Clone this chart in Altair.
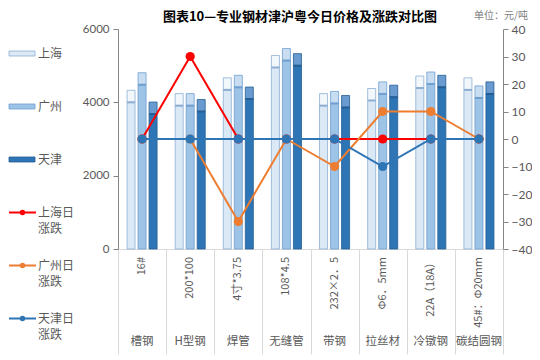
import altair as alt
import pandas as pd

categories = ["槽钢", "H型钢", "焊管", "无缝管", "带钢", "拉丝材", "冷镦钢", "碳结圆钢"]
specs = ["16#", "200*100", "4寸*3.75", "108*4.5", "232×2．5", "Φ6．5mm", "22A（18A）", "45#：Φ20mm"]
cities = ["上海", "广州", "天津"]
price_sh = [4000, 3910, 4340, 4950, 3910, 4050, 4390, 4340]
price_gz = [4480, 3910, 4410, 5140, 3970, 4230, 4500, 4120]
price_tj = [3680, 3750, 4090, 5000, 3860, 4140, 4410, 4230]
chg_names = ["上海日涨跌", "广州日涨跌", "天津日涨跌"]
chg_sh = [0, 30, 0, 0, 0, 0, 0, 0]
chg_gz = [0, 0, -30, 0, -10, 10, 10, 0]
chg_tj = [0, 0, 0, 0, 0, -10, 0, 0]
title_text = "图表10—专业钢材津沪粤今日价格及涨跌对比图"
unit_text = "单位：元/吨"

bar_fill = ["#dbe8f5", "#9dc3e6", "#2e75b6"]
bar_stroke = ["#8eaed3", "#6f9fcf", "#245e94"]
cap_fill = ["#f2f7fc", "#c9ddf2", "#6a9bd0"]
line_colors = ["#ff0000", "#ed7d31", "#2e75b6"]
CJK = "Noto Sans CJK SC"

rows = []
for city, vals in zip(cities, [price_sh, price_gz, price_tj]):
    for c, v in zip(categories, vals):
        rows.append({"cat": c, "city": city, "price": v})
bars_df = pd.DataFrame(rows)

lrows = []
for name, vals in zip(chg_names, [chg_sh, chg_gz, chg_tj]):
    for c, v in zip(categories, vals):
        lrows.append({"cat": c, "series": name, "chg": v})
lines_df = pd.DataFrame(lrows)

spec_df = pd.DataFrame({"cat": categories, "spec": specs})

xenc = alt.X("cat:N", sort=categories,
             scale=alt.Scale(paddingInner=0, paddingOuter=0),
             axis=alt.Axis(labels=False, title=None, tickBand="extent", tickSize=105,
                           tickColor="#d9d9d9", domainColor="#d9d9d9", grid=False))
xoff = alt.XOffset("city:N", sort=cities,
                   scale=alt.Scale(domain=cities, paddingInner=0.27, paddingOuter=0.82))
yleft = alt.Y("price:Q", scale=alt.Scale(domain=[0, 6000]),
              axis=alt.Axis(orient="left", values=list(range(0, 6001, 1000)), title=None,
                            format="d", grid=False, domainColor="#868686", tickColor="#868686",
                            labelColor="#595959", labelFont="Lato", labelFontSize=11.5,
                            tickSize=5, labelPadding=4))

bar_layers = []
for i, city in enumerate(cities):
    base = alt.Chart(bars_df).transform_filter(alt.datum.city == city)
    bar_layers.append(base.mark_bar(fill=bar_fill[i], stroke=bar_stroke[i], strokeWidth=0.8).encode(
        x=xenc if i == 0 else alt.X("cat:N", sort=categories), xOffset=xoff, y=yleft))
    bar_layers.append(base.mark_tick(thickness=12, size=8, yOffset=-6, opacity=1, fill=cap_fill[i],
                                     stroke=bar_stroke[i], strokeWidth=0.8).encode(
        x=alt.X("cat:N", sort=categories), xOffset=xoff, y="price:Q"))
    bar_layers.append(base.mark_tick(thickness=2, size=8, opacity=1, color=bar_stroke[i]).encode(
        x=alt.X("cat:N", sort=categories), xOffset=xoff, y="price:Q"))

spec_text = alt.Chart(spec_df).mark_text(angle=270, align="right", baseline="middle",
                                         fontSize=11, color="#595959", font=CJK).encode(
    x=alt.X("cat:N", sort=categories), y=alt.value(228), text="spec")
name_text = alt.Chart(spec_df).mark_text(baseline="middle", fontSize=11.5, color="#595959",
                                         font=CJK).encode(
    x=alt.X("cat:N", sort=categories), y=alt.value(313), text="cat")
title = alt.Chart(pd.DataFrame({"t": [title_text]})).mark_text(
    fontSize=13, fontWeight="bold", font=CJK, color="#000000", baseline="middle").encode(
    x=alt.value(182), y=alt.value(-12), text="t")
unit = alt.Chart(pd.DataFrame({"t": [unit_text]})).mark_text(
    fontSize=10, font=CJK, color="#7f7f7f", align="left", baseline="middle").encode(
    x=alt.value(356), y=alt.value(-13), text="t")

left_group = alt.layer(*bar_layers, spec_text, name_text, title, unit)

yright = alt.Y("chg:Q", scale=alt.Scale(domain=[-40, 40]),
               axis=alt.Axis(orient="right", values=list(range(-40, 41, 10)), title=None,
                             grid=False, domainColor="#868686", tickColor="#868686",
                             labelColor="#595959", labelFont="Lato", labelFontSize=12,
                             tickSize=5, labelPadding=3))
line_layers = []
for name, col in zip(chg_names, line_colors):
    line_layers.append(
        alt.Chart(lines_df).transform_filter(alt.datum.series == name)
        .mark_line(color=col, strokeWidth=2,
                   point=alt.OverlayMarkDef(color=col, size=85, filled=True, opacity=1))
        .encode(x=alt.X("cat:N", sort=categories), y=yright)
    )
right_group = alt.layer(*line_layers)

main = alt.layer(left_group, right_group).resolve_scale(y="independent").properties(
    width=385, height=220)

legend_names = ["上海", "广州", "天津", "上海日", "广州日", "天津日"]
legend_line2 = ["", "", "", "涨跌", "涨跌", "涨跌"]
legend_colors = ["#dbe8f5", "#9dc3e6", "#2e75b6", "#ff0000", "#ed7d31", "#2e75b6"]
legend_edge = ["#8eaed3", "#6f9fcf", "#245e94", "#ff0000", "#ed7d31", "#2e75b6"]
legend_kind = ["bar", "bar", "bar", "line", "line", "line"]
leg_df = pd.DataFrame({"name": legend_names, "l2": legend_line2, "kind": legend_kind})
ly = alt.Y("name:N", sort=legend_names, axis=None,
           scale=alt.Scale(domain=legend_names, paddingInner=0, paddingOuter=0))
lcol = alt.Color("name:N", scale=alt.Scale(domain=legend_names, range=legend_colors), legend=None)
ledge = alt.Stroke("name:N", scale=alt.Scale(domain=legend_names, range=legend_edge), legend=None)
YO = -2

leg_bar = alt.Chart(leg_df).transform_filter(alt.datum.kind == "bar").mark_bar(
    height=5, strokeWidth=0.8, yOffset=YO).encode(
    x=alt.value(1), x2=alt.value(27), y=ly, color=lcol, stroke=ledge)
leg_line = alt.Chart(leg_df).transform_filter(alt.datum.kind == "line").mark_rule(
    strokeWidth=2, yOffset=YO).encode(x=alt.value(1), x2=alt.value(28), y=ly, color=lcol)
leg_pt = alt.Chart(leg_df).transform_filter(alt.datum.kind == "line").mark_point(
    filled=True, size=30, opacity=1, yOffset=YO).encode(x=alt.value(14.5), y=ly, color=lcol)
leg_t1 = alt.Chart(leg_df).mark_text(align="left", baseline="middle", fontSize=12,
                                     font=CJK, color="#595959", yOffset=YO).encode(
    x=alt.value(30), y=ly, text="name")
leg_t2 = alt.Chart(leg_df).transform_filter(alt.datum.kind == "line").mark_text(
    align="left", baseline="middle", fontSize=12, font=CJK, color="#595959",
    yOffset=YO + 16).encode(x=alt.value(30), y=ly, text="l2")
legend = alt.layer(leg_bar, leg_line, leg_pt, leg_t1, leg_t2).properties(
    width=62, height=318)

chart = alt.hconcat(legend, main, spacing=7).properties(
    padding={"left": 0, "top": 3, "right": 0, "bottom": 0}
).configure_view(stroke=None)

chart.save("out.html", embed_options={"renderer": "svg", "actions": False})
